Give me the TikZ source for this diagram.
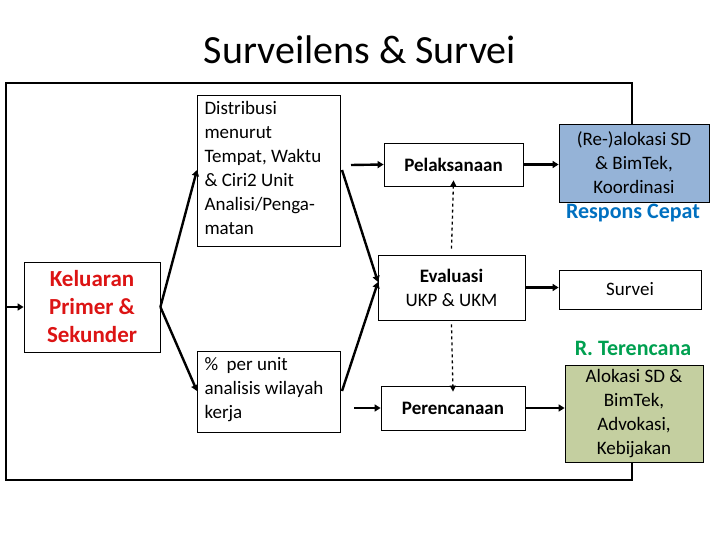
\documentclass[tikz,border=0pt]{standalone}
\usepackage{fontspec}
\setmainfont{Carlito}
\usetikzlibrary{arrows.meta}
\definecolor{bluebox}{RGB}{149,179,215}
\definecolor{greenbox}{RGB}{196,207,160}
\definecolor{respblue}{RGB}{0,112,192}
\definecolor{tgreen}{RGB}{0,160,80}
\definecolor{kred}{RGB}{220,20,20}
\tikzset{
 box/.style={draw, line width=0.8pt, inner sep=0pt},
 txt/.style={font=\fontsize{19}{24}\selectfont, align=left},
 ctxt/.style={font=\fontsize{19}{24}\selectfont, align=center},
 arr/.style={line width=2.4pt, -{Triangle[length=6pt,width=7pt]}},
 darr/.style={line width=1.3pt, dashed, -{Triangle[length=6pt,width=6pt]}},
}
\begin{document}
\begin{tikzpicture}[x=1pt,y=-1pt]
\useasboundingbox (0,0) rectangle (720,540);
\node[font=\fontsize{40}{46}\selectfont] (title) at (360,50) {Surveilens \& Survei};
% boxes
\node[box, minimum width=136pt, minimum height=90pt] (kel) at (92,307) {};
\node[ctxt, font=\bfseries\fontsize{23}{28}\selectfont, text=kred] at (kel) {Keluaran\\Primer \&\\Sekunder};
\node[box, minimum width=143pt, minimum height=151pt] (dist) at (268.5,170.5) {};
\node[txt, anchor=north west] at (201,98) {Distribusi\\menurut\\Tempat, Waktu\\\& Ciri2 Unit\\Analisi/Penga-\\matan};
\node[box, minimum width=143pt, minimum height=81pt] (pct) at (268.5,391.5) {};
\node[txt, anchor=north west] at (201,354) {\%~ per unit\\analisis wilayah\\kerja};
\node[box, minimum width=139pt, minimum height=43pt, font=\bfseries\fontsize{19}{22}\selectfont] (pel) at (453.5,164.5) {Pelaksanaan};
\node[box, minimum width=147pt, minimum height=65pt] (eva) at (451.5,287.5) {};
\node[ctxt] at (eva) {\textbf{Evaluasi}\\UKP \& UKM};
\node[box, minimum width=144pt, minimum height=44pt, font=\bfseries\fontsize{19}{22}\selectfont] (per) at (453,408) {Perencanaan};
\node[box, fill=bluebox, minimum width=150pt, minimum height=78pt] (blue) at (634,163) {};
\node[ctxt] at (blue) {(Re-)alokasi SD\\\& BimTek,\\Koordinasi};
\node[font=\bfseries\fontsize{22}{26}\selectfont, text=respblue] (resp) at (633,213) {Respons Cepat};
\node[box, minimum width=142pt, minimum height=39pt, font=\fontsize{19}{22}\selectfont] (sur) at (630,289.5) {Survei};
\node[font=\bfseries\fontsize{22}{26}\selectfont, text=tgreen] (ter) at (633,348) {R. Terencana};
\node[box, fill=greenbox, minimum width=138pt, minimum height=97pt] (green) at (634,413.5) {};
\node[ctxt] at (green) {Alokasi SD \&\\BimTek,\\Advokasi,\\Kebijakan};
% feedback loop
\coordinate (c1) at (6,480);
\coordinate (c2) at (6,83);
\coordinate (c3) at (632,83);
\coordinate (c4) at (632,480);
\draw[line width=2.5pt] (632,124) -- (c3) -- (c2) -- (c1) -- (c4) -- (632,462);
\draw[arr] (6,307) -- (kel.west);
% arrows
\coordinate (d1) at (197,170);
\coordinate (p1) at (197,391);
\coordinate (d2) at (342,170);
\coordinate (p2) at (342,391);
\coordinate (e1) at (378,282);
\draw[arr] (kel.east) -- (d1);
\draw[arr] (kel.east) -- (p1);
\draw[arr] (d2) -- (e1);
\draw[arr] (p2) -- (e1);
\draw[arr] (351,165) -- (pel.west);
\draw[arr] (354,408) -- (per.west);
\draw[arr] (pel.east) -- (pel.east -| blue.west);
\draw[arr] (eva.east) -- (eva.east -| sur.west);
\draw[arr] (per.east) -- (per.east -| green.west);
\draw[darr] (eva.north) ++(0,-6) -- ([yshift=6pt]pel.south);
\draw[darr] (eva.south) ++(0,4) -- ([yshift=-6pt]per.north);
\end{tikzpicture}
\end{document}
